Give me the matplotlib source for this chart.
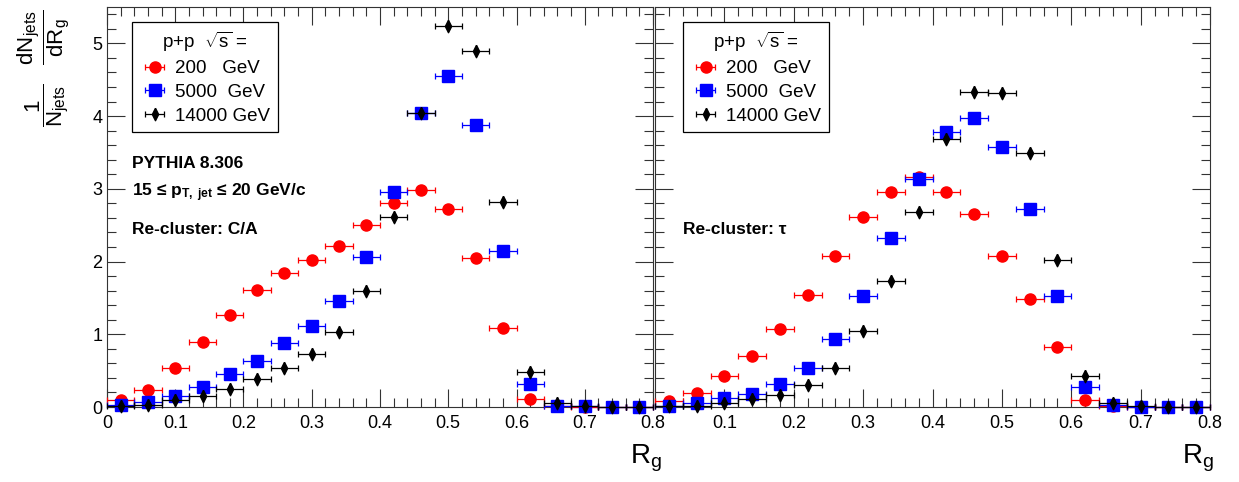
"""Groomed jet radius R_g for p+p at three energies, C/A vs tau re-clustering."""
import matplotlib
matplotlib.use('Agg')
import matplotlib.pyplot as plt
from matplotlib.ticker import MultipleLocator

plt.rcParams['font.family'] = ['Liberation Sans', 'DejaVu Sans']
plt.rcParams['mathtext.fontset'] = 'custom'
plt.rcParams['mathtext.rm'] = 'Liberation Sans'
plt.rcParams['mathtext.it'] = 'Liberation Sans:italic'
plt.rcParams['mathtext.bf'] = 'Liberation Sans:bold'

# bin centres and half widths of R_g
rg = [0.02, 0.06, 0.10, 0.14, 0.18, 0.22, 0.26, 0.30, 0.34, 0.38,
      0.42, 0.46, 0.50, 0.54, 0.58, 0.62, 0.66, 0.70, 0.74, 0.78]
half_width = 0.02

energies = ['200   GeV', '5000  GeV', '14000 GeV']

# Re-cluster: C/A
ca_200 = [0.09, 0.24, 0.54, 0.89, 1.27, 1.61, 1.84, 2.02, 2.22, 2.50,
          2.80, 2.98, 2.72, 2.05, 1.08, 0.11, 0.01, 0.005, 0.0, 0.0]
ca_5000 = [0.03, 0.07, 0.15, 0.28, 0.45, 0.63, 0.88, 1.11, 1.46, 2.06,
           2.95, 4.04, 4.55, 3.88, 2.14, 0.31, 0.02, 0.01, 0.005, 0.0]
ca_14000 = [0.01, 0.03, 0.09, 0.15, 0.25, 0.38, 0.53, 0.73, 1.03, 1.59,
            2.61, 4.04, 5.24, 4.89, 2.82, 0.48, 0.06, 0.01, 0.005, 0.0]

# Re-cluster: tau
tau_200 = [0.08, 0.19, 0.43, 0.70, 1.07, 1.54, 2.08, 2.61, 2.96, 3.16,
           2.96, 2.66, 2.08, 1.49, 0.83, 0.10, 0.02, 0.005, 0.0, 0.0]
tau_5000 = [0.02, 0.06, 0.13, 0.18, 0.31, 0.53, 0.93, 1.52, 2.33, 3.13,
            3.78, 3.97, 3.58, 2.72, 1.53, 0.28, 0.03, 0.0, 0.0, 0.0]
tau_14000 = [0.01, 0.02, 0.05, 0.11, 0.17, 0.30, 0.54, 1.04, 1.73, 2.68,
             3.68, 4.33, 4.32, 3.49, 2.02, 0.42, 0.06, 0.01, 0.0, 0.0]

# ROOT-like thin diamond
thin_diamond = [(0, 1), (0.5, 0), (0, -1), (-0.5, 0), (0, 1)]
styles = [dict(color='#ff0000', marker='o', ms=8),
          dict(color='#0000ff', marker='s', ms=8.5),
          dict(color='black', marker=thin_diamond, ms=9)]

fig = plt.figure(figsize=(12.39, 4.82), dpi=100)
ax1 = fig.add_axes([107 / 1239, 75 / 482, 546 / 1239, 400 / 482])
ax2 = fig.add_axes([655 / 1239, 75 / 482, 555 / 1239, 400 / 482])


def draw(ax, series):
    handles = []
    for vals, st in zip(series, styles):
        h = ax.errorbar(rg, vals, xerr=half_width, fmt='none',
                        ecolor=st['color'], elinewidth=0.9, capsize=2.5,
                        capthick=0.9, clip_on=False, zorder=3)
        ax.plot(rg, vals, ls='none', marker=st['marker'], color=st['color'],
                ms=st['ms'], mec=st['color'], clip_on=False, zorder=3)
        handles.append((h, ax.lines[-1]))
    ax.set_xlim(0, 0.8)
    ax.set_ylim(0, 5.5)
    ax.xaxis.set_major_locator(MultipleLocator(0.1))
    ax.xaxis.set_minor_locator(MultipleLocator(0.02))
    ax.yaxis.set_major_locator(MultipleLocator(1))
    ax.yaxis.set_minor_locator(MultipleLocator(0.2))
    ax.tick_params(which='both', direction='in', top=True, right=True,
                   labelsize=13, color='#333333', width=0.8)
    ax.tick_params(which='major', length=13)
    ax.tick_params(which='minor', length=6.5)
    for sp in ax.spines.values():
        sp.set_linewidth(0.8)
        sp.set_color('#333333')
    return handles


h = draw(ax1, [ca_200, ca_5000, ca_14000])
draw(ax2, [tau_200, tau_5000, tau_14000])

ax1.set_xticks([0, 0.1, 0.2, 0.3, 0.4, 0.5, 0.6, 0.7, 0.8])
ax1.set_xticklabels(['0', '0.1', '0.2', '0.3', '0.4', '0.5', '0.6', '0.7', '0.8'])
ax2.set_xticks([0.1, 0.2, 0.3, 0.4, 0.5, 0.6, 0.7, 0.8])
ax2.set_yticklabels([])
ax1.tick_params(axis='x', pad=6)
ax2.tick_params(axis='x', pad=6)

for ax, x0 in [(ax1, 25 / 546), (ax2, 28 / 555)]:
    leg = ax.legend(h, energies, title=r'p+p  $\sqrt{\mathrm{s}}$ =',
                    loc='upper left', bbox_to_anchor=(x0, 0.9625),
                    borderaxespad=0, fontsize=13.5, title_fontsize=13.5,
                    handlelength=1.6, handletextpad=0.3, labelspacing=0.35,
                    borderpad=0.4, fancybox=False, edgecolor='black',
                    framealpha=1)
    leg.get_frame().set_linewidth(0.9)

ax1.text(25 / 546, 0.61, 'PYTHIA 8.306', transform=ax1.transAxes,
         fontsize=12.5, fontweight='bold', va='center')
ax1.text(25 / 546, 0.535, r'15 ≤ $\mathbf{p}_{\mathbf{T,\ jet}}$ ≤ 20 GeV/c',
         transform=ax1.transAxes, fontsize=12.5, fontweight='bold', va='center')
ax1.text(25 / 546, 0.4425, 'Re-cluster: C/A', transform=ax1.transAxes,
         fontsize=12.5, fontweight='bold', va='center')
ax2.text(28 / 555, 0.4425, 'Re-cluster: τ', transform=ax2.transAxes,
         fontsize=12.5, fontweight='bold', va='center')

fig.text(44 / 1239, 1 - 9 / 482,
         r'$\dfrac{1}{\mathrm{N}_{\rm jets}}\quad\dfrac{\mathrm{dN}_{\rm jets}}{\mathrm{dR}_{\rm g}}$',
         rotation=90, ha='center', va='top', fontsize=16)
fig.text(662 / 1239, 1 - 458 / 482, r'R$_{\rm g}$', ha='right', va='center',
         fontsize=20)
fig.text(1214 / 1239, 1 - 458 / 482, r'R$_{\rm g}$', ha='right', va='center',
         fontsize=20)

fig.savefig('out.png', dpi=100, facecolor='white')
